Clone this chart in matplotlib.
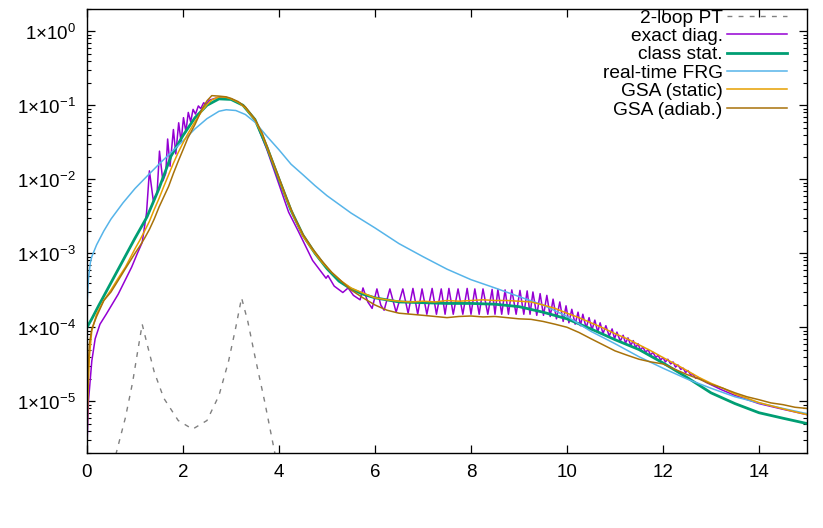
import math
import matplotlib
matplotlib.use('Agg')
import matplotlib.pyplot as plt
from matplotlib.ticker import FixedLocator, LogLocator, FuncFormatter, NullFormatter

plt.rcParams['font.family'] = ['Liberation Sans', 'DejaVu Sans']
plt.rcParams['mathtext.fontset'] = 'custom'
plt.rcParams['mathtext.rm'] = 'Liberation Sans'

# 2-loop perturbation theory (gray dashed)
pt_x = [0.60, 0.80, 0.95, 1.05, 1.15, 1.25, 1.40, 1.60, 1.90, 2.20, 2.50, 2.75, 2.95, 3.10, 3.22,
        3.35, 3.50, 3.70, 3.92]
pt_y = [1.9e-6, 6e-6, 1.8e-5, 4.5e-5, 1.1e-4, 6e-5, 2.5e-5, 1.1e-5, 5.5e-6, 4.2e-6, 5.5e-6, 1.2e-5,
        3.5e-5, 1.0e-4, 2.5e-4, 1.2e-4, 4e-5, 1e-5, 1.9e-6]

# exact diagonalisation (purple)
ed_x = [0.0, 0.03, 0.10, 0.17, 0.27, 0.40, 0.65, 0.93, 1.05, 1.15, 1.24, 1.30, 1.38, 1.46, 1.51,
        1.58, 1.64, 1.68, 1.73, 1.80, 1.85, 1.91, 1.96, 2.01, 2.06, 2.11, 2.16, 2.21, 2.26, 2.32,
        2.37, 2.43, 2.48, 2.55, 2.70, 2.85, 3.00, 3.25, 3.50, 3.75, 4.00, 4.20, 4.40, 4.70, 4.98,
        5.02, 5.15, 5.33, 5.44, 5.55, 5.69, 5.75, 5.85, 5.94, 6.04, 6.12, 6.19,
        6.31, 6.44, 6.58, 6.69, 6.79, 6.89, 6.98, 7.08, 7.19, 7.28, 7.38, 7.46, 7.54, 7.63,
        7.73, 7.83, 7.92, 8.00, 8.08, 8.17, 8.25, 8.35, 8.44, 8.50, 8.56, 8.64, 8.71, 8.78,
        8.85, 8.94, 9.02, 9.10, 9.17, 9.23, 9.29, 9.37, 9.44, 9.51, 9.58, 9.65, 9.71, 9.78,
        9.85, 9.92, 9.98, 10.04, 10.10, 10.17, 10.23, 10.28, 10.33, 10.40, 10.46, 10.52,
        10.58, 10.64, 10.69, 10.75, 10.81, 10.88, 10.94, 10.99, 11.04, 11.11, 11.17, 11.22,
        11.27, 11.33, 11.38, 11.43, 11.48, 11.53, 11.58, 11.64, 11.69, 11.74, 11.79, 11.85,
        11.90, 11.95, 12.00, 12.05, 12.10, 12.16, 12.21, 12.26, 12.31, 12.37, 12.42, 12.47,
        12.52, 12.58, 12.63, 12.68, 12.73, 12.90, 13.20, 13.50, 14.00, 14.50, 15.00]
ed_y = [2.5e-6, 1.0e-5, 3.5e-5, 7.0e-5, 1.1e-4, 1.5e-4, 2.8e-4, 6.5e-4, 1.0e-3, 1.4e-3, 3.5e-3,
        1.3e-2, 5.2e-3, 6.5e-3, 2.4e-2, 9.5e-3, 1.2e-2, 3.5e-2, 1.5e-2, 4.7e-2, 2.2e-2, 5.8e-2,
        3.2e-2, 6.8e-2, 4.4e-2, 8.0e-2, 6.0e-2, 8.8e-2, 7.6e-2, 9.8e-2, 9.0e-2, 1.08e-1, 1.03e-1,
        1.17e-1, 1.26e-1, 1.27e-1, 1.2e-1, 1.0e-1, 6.4e-2, 2.5e-2, 8.5e-3, 3.6e-3, 2.0e-3, 8.0e-4,
        4.6e-4, 5.0e-4, 3.6e-4, 2.95e-4, 3.4e-4, 2.7e-4, 2.35e-4, 3.4e-4, 2.2e-4, 1.8e-4, 3.3e-4,
        2.0e-4, 1.7e-4,
        3.3e-4, 1.6e-4, 3.3e-4, 1.55e-4, 3.35e-4, 1.5e-4, 3.3e-4, 1.5e-4, 3.35e-4, 1.5e-4,
        3.3e-4, 1.5e-4, 3.35e-4, 1.5e-4, 3.3e-4, 1.5e-4, 3.35e-4, 1.5e-4, 3.3e-4, 1.5e-4,
        3.3e-4, 1.5e-4, 3.25e-4, 1.5e-4, 3.25e-4, 1.5e-4, 3.2e-4, 1.5e-4, 3.2e-4, 1.5e-4,
        3.15e-4, 1.5e-4, 3.1e-4, 1.5e-4, 3.0e-4, 1.45e-4, 2.85e-4, 1.45e-4, 2.7e-4, 1.4e-4,
        2.4e-4, 1.3e-4, 2.2e-4, 1.2e-4, 1.95e-4, 1.15e-4, 1.75e-4, 1.1e-4, 1.6e-4, 1.05e-4,
        1.5e-4, 9.8e-5, 1.35e-4, 9.2e-5, 1.25e-4, 8.6e-5, 1.15e-4, 8.2e-5, 1.05e-4, 7.6e-5,
        9.5e-5, 7.0e-5, 8.6e-5, 6.5e-5, 7.8e-5, 6.1e-5, 7.2e-5, 5.7e-5, 6.6e-5, 5.3e-5,
        6.0e-5, 4.9e-5, 5.4e-5, 4.6e-5, 5.0e-5, 4.2e-5, 4.6e-5, 3.9e-5, 4.2e-5, 3.6e-5,
        3.9e-5, 3.4e-5, 3.7e-5, 3.2e-5, 3.4e-5, 2.9e-5, 3.1e-5, 2.7e-5, 2.8e-5, 2.45e-5,
        2.6e-5, 2.25e-5, 2.3e-5, 2.05e-5, 2.1e-5, 1.8e-5, 1.45e-5, 1.2e-5, 9.3e-6, 7.8e-6, 6.6e-6]

# classical statistical simulation (green, thick)
cs_x = [0.0, 0.1, 0.25, 0.5, 0.75, 1.0, 1.25, 1.5, 1.75, 2.0, 2.25, 2.5, 2.75, 3.0, 3.25, 3.5,
        3.75, 4.0, 4.25, 4.5, 4.75, 5.0, 5.25, 5.5, 5.75, 6.0, 6.5, 7.0, 7.5, 8.0, 8.5, 9.0, 9.5,
        10.0, 10.5, 11.0, 11.5, 12.0, 12.5, 13.0, 13.5, 14.0, 14.5, 15.0]
cs_y = [1.0e-4, 1.3e-4, 2.0e-4, 4.0e-4, 8.0e-4, 1.6e-3, 3.1e-3, 7.5e-3, 2.05e-2, 3.9e-2, 6.8e-2,
        1.0e-1, 1.22e-1, 1.2e-1, 1.0e-1, 6.4e-2, 2.7e-2, 1.0e-2, 3.8e-3, 1.75e-3, 1.0e-3, 6.2e-4,
        4.2e-4, 3.3e-4, 2.8e-4, 2.5e-4, 2.2e-4, 2.15e-4, 2.1e-4, 2.1e-4, 2.05e-4, 1.9e-4, 1.6e-4,
        1.3e-4, 9.5e-5, 6.8e-5, 5.0e-5, 3.3e-5, 2.1e-5, 1.3e-5, 9.3e-6, 7.0e-6, 5.9e-6, 5.0e-6]

# real-time FRG (light blue)
frg_x = [0.0, 0.03, 0.07, 0.1, 0.2, 0.35, 0.5, 0.75, 1.0, 1.25, 1.5, 1.75, 2.0, 2.25, 2.5, 2.75,
         2.9, 3.1, 3.3, 3.5, 3.75, 4.0, 4.25, 4.5, 4.75, 5.0, 5.5, 6.0, 6.5, 7.0, 7.5, 8.0, 8.5,
         9.0, 9.5, 10.0, 10.5, 11.0, 11.5, 12.0, 12.5, 13.0, 13.5, 14.0, 14.5, 15.0]
frg_y = [2.0e-4, 4.5e-4, 7.5e-4, 9.0e-4, 1.3e-3, 2.0e-3, 2.9e-3, 4.8e-3, 7.5e-3, 1.1e-2, 1.6e-2,
         2.3e-2, 3.3e-2, 4.8e-2, 6.6e-2, 8.3e-2, 8.7e-2, 8.5e-2, 7.5e-2, 5.9e-2, 3.8e-2, 2.5e-2,
         1.6e-2, 1.15e-2, 8.2e-3, 6.0e-3, 3.5e-3, 2.2e-3, 1.35e-3, 9.0e-4, 6.1e-4, 4.4e-4, 3.4e-4,
         2.6e-4, 2.0e-4, 1.4e-4, 8.8e-5, 6.0e-5, 4.0e-5, 2.8e-5, 2.0e-5, 1.5e-5, 1.15e-5, 9.5e-6,
         8.0e-6, 6.8e-6]

# GSA grid shared by static and adiabatic runs
gsa_x = [0.0, 0.02, 0.05, 0.1, 0.2, 0.35, 0.5, 0.65, 0.8, 1.0, 1.1, 1.2, 1.3, 1.4, 1.5, 1.6, 1.7,
         1.8, 1.9, 2.0, 2.1, 2.25, 2.4, 2.5, 2.6, 2.75, 2.9, 3.0, 3.15, 3.3, 3.5, 3.65, 3.8, 4.0,
         4.15, 4.3, 4.5, 4.7, 4.9, 5.1, 5.3, 5.5, 5.75, 6.0, 6.25, 6.5, 6.75, 7.0, 7.25, 7.5, 7.75,
         8.0, 8.25, 8.5, 8.75, 9.0, 9.25, 9.5, 9.75, 10.0, 10.25, 10.5, 10.75, 11.0, 11.25, 11.5,
         11.75, 12.0, 12.25, 12.5, 12.75, 13.0, 13.25, 13.5, 13.75, 14.0, 14.25, 14.5, 14.75, 15.0]
gsa_static = [3.0e-6, 1.2e-5, 4.0e-5, 9.0e-5, 1.5e-4, 2.3e-4, 3.2e-4, 4.6e-4, 6.5e-4, 1.15e-3,
              1.5e-3, 2.0e-3, 2.7e-3, 3.9e-3, 5.5e-3, 8.0e-3, 1.15e-2, 1.65e-2, 2.3e-2, 3.1e-2,
              4.1e-2, 6.0e-2, 8.5e-2, 1.02e-1, 1.18e-1, 1.3e-1, 1.28e-1, 1.22e-1, 1.1e-1, 9.2e-2,
              6.3e-2, 4.0e-2, 2.2e-2, 1.0e-2, 5.5e-3, 3.2e-3, 1.7e-3, 1.1e-3, 7.5e-4, 5.5e-4,
              4.2e-4, 3.4e-4, 2.9e-4, 2.5e-4, 2.35e-4, 2.25e-4, 2.2e-4, 2.25e-4, 2.2e-4, 2.3e-4,
              2.25e-4, 2.3e-4, 2.35e-4, 2.3e-4, 2.3e-4, 2.25e-4, 2.2e-4, 2.0e-4, 1.8e-4, 1.55e-4,
              1.35e-4, 1.15e-4, 9.8e-5, 8.2e-5, 7.0e-5, 5.8e-5, 4.8e-5, 3.9e-5, 3.2e-5, 2.6e-5,
              2.1e-5, 1.75e-5, 1.5e-5, 1.25e-5, 1.1e-5, 9.6e-6, 8.7e-6, 7.9e-6, 7.2e-6, 6.6e-6]
gsa_adiab = [5.0e-6, 2.5e-5, 6.0e-5, 9.5e-5, 1.4e-4, 2.3e-4, 3.0e-4, 4.3e-4, 6.2e-4, 1.0e-3,
             1.25e-3, 1.6e-3, 2.1e-3, 2.9e-3, 4.2e-3, 5.8e-3, 8.0e-3, 1.2e-2, 1.75e-2, 2.5e-2,
             3.6e-2, 5.5e-2, 9.0e-2, 1.15e-1, 1.35e-1, 1.33e-1, 1.3e-1, 1.24e-1, 1.12e-1, 9.5e-2,
             6.5e-2, 4.2e-2, 2.3e-2, 1.05e-2, 5.8e-3, 3.3e-3, 1.8e-3, 1.15e-3, 7.8e-4, 5.5e-4,
             4.2e-4, 3.2e-4, 2.5e-4, 2.0e-4, 1.7e-4, 1.55e-4, 1.5e-4, 1.45e-4, 1.4e-4, 1.35e-4,
             1.4e-4, 1.42e-4, 1.38e-4, 1.4e-4, 1.35e-4, 1.3e-4, 1.28e-4, 1.2e-4, 1.1e-4, 1.0e-4,
             8.5e-5, 7.0e-5, 5.8e-5, 4.8e-5, 4.2e-5, 3.7e-5, 3.4e-5, 3.2e-5, 2.7e-5, 2.3e-5,
             2.0e-5, 1.7e-5, 1.5e-5, 1.3e-5, 1.15e-5, 1.05e-5, 9.5e-6, 9.0e-6, 8.3e-6, 8.0e-6]

labels = ['2-loop PT', 'exact diag.', 'class stat.', 'real-time FRG', 'GSA (static)', 'GSA (adiab.)']
x_ticks = [0, 2, 4, 6, 8, 10, 12, 14]
y_ticks = [1e-5, 1e-4, 1e-3, 1e-2, 1e-1, 1e0]

fig = plt.figure(figsize=(8.23, 5.28), dpi=100)
ax = fig.add_axes([87 / 823, 75 / 528, 720 / 823, 444 / 528])

ax.plot(pt_x, pt_y, color='#808080', lw=1.0, dashes=(3.5, 4.5), label=labels[0])
ax.plot(ed_x, ed_y, color='#9400d3', lw=1.1, label=labels[1])
ax.plot(cs_x, cs_y, color='#009e73', lw=2.0, label=labels[2])
ax.plot(frg_x, frg_y, color='#56b4e9', lw=1.1, label=labels[3])
ax.plot(gsa_x, gsa_static, color='#e69f00', lw=1.1, label=labels[4])
ax.plot(gsa_x, gsa_adiab, color='#a8720a', lw=1.1, label=labels[5])

ax.set_yscale('log')
ax.set_xlim(0, 15)
ax.set_ylim(2e-6, 2)
ax.xaxis.set_major_locator(FixedLocator(x_ticks))
ax.yaxis.set_major_locator(FixedLocator(y_ticks))
ax.yaxis.set_minor_locator(LogLocator(base=10, subs=range(2, 10), numticks=20))
ax.yaxis.set_minor_formatter(NullFormatter())
ax.yaxis.set_major_formatter(FuncFormatter(
    lambda v, pos: '1×10$^{\\mathregular{%d}}$' % round(math.log10(v))))

ax.tick_params(which='both', direction='in', top=True, right=True, labelsize=13.5)
ax.tick_params(which='major', length=5.5, width=0.9)
ax.tick_params(which='minor', length=3, width=0.8)
ax.tick_params(axis='y', pad=8)
ax.tick_params(axis='x', pad=8)
for s in ax.spines.values():
    s.set_linewidth(1.0)

ax.legend(loc='upper right', bbox_to_anchor=(0.972, 0.9995), frameon=False, markerfirst=False,
          fontsize=13.8, handlelength=3.13, handletextpad=0.22, labelspacing=0.05,
          borderaxespad=0.0, borderpad=0.0)

fig.savefig('out.png', dpi=100)
